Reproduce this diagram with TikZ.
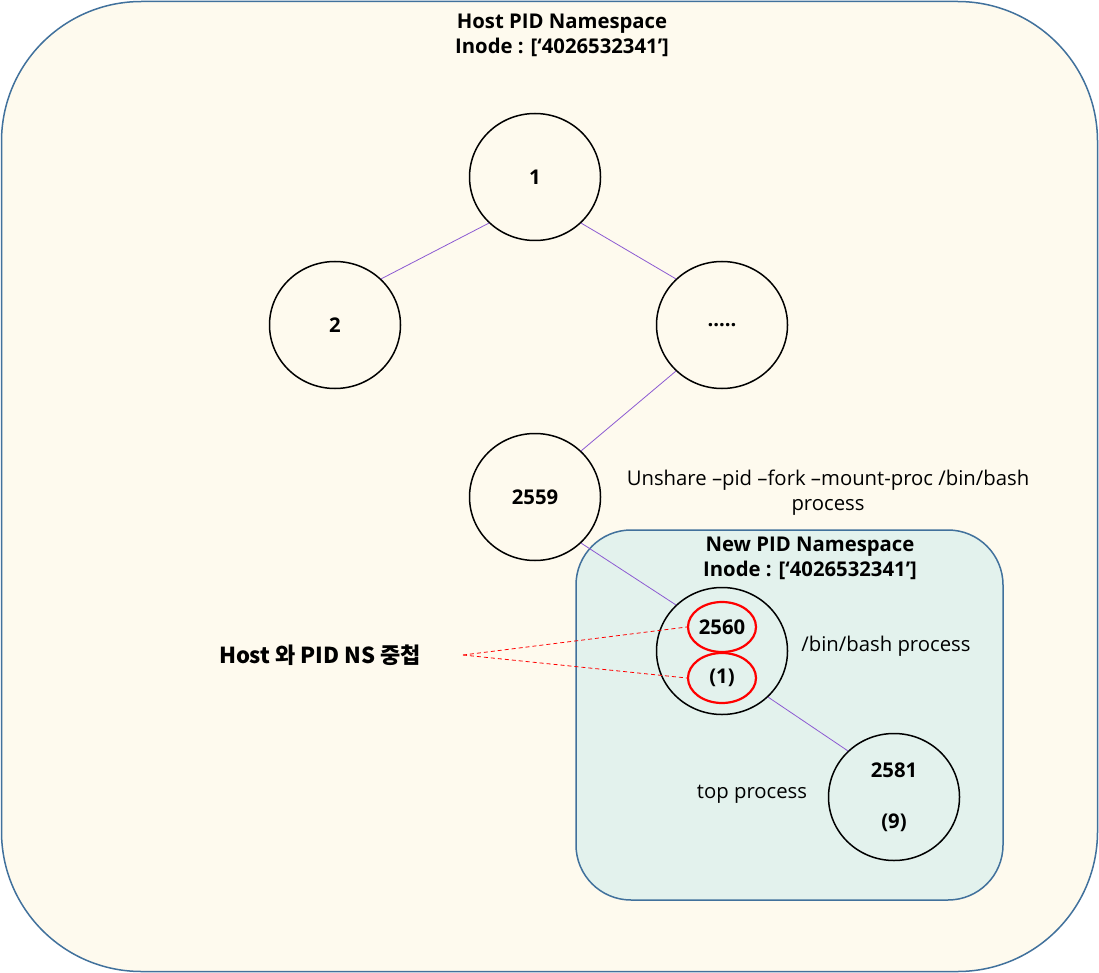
\documentclass[tikz,border=0pt]{standalone}
\usepackage{fontspec}
\setmainfont{Open Sans}
\newfontfamily\kr{Noto Sans CJK KR}
\usetikzlibrary{shapes.geometric}
\definecolor{hostfill}{RGB}{254,250,238}
\definecolor{nsfill}{RGB}{227,242,237}
\definecolor{nsline}{RGB}{65,113,156}
\definecolor{tree}{RGB}{140,90,210}
\newcommand{\txt}{\fontsize{20.3}{25}\selectfont}

\begin{document}
\begin{tikzpicture}[x=1pt,y=-1pt,
        proc/.style={draw, line width=1.5pt, ellipse, minimum width=131pt, minimum height=127pt, font=\txt\bfseries},
        pidmark/.style={draw=red, line width=2.2pt, ellipse, minimum width=68pt, minimum height=50pt, inner sep=0pt, font=\txt\bfseries},
        note/.style={font=\txt, align=center},
        head/.style={font=\txt\bfseries, align=center},
        edge/.style={draw=tree, line width=0.8pt}]
        \useasboundingbox (0,0) rectangle (1099,973);
        % namespaces
        \draw[nsline, fill=hostfill, line width=1.5pt, rounded corners=140pt] (1.5,1.5) rectangle (1097.5,971.5);
        \draw[nsline, fill=nsfill, line width=1.5pt, rounded corners=55pt] (576,530) rectangle (1003,900);
        \node (hostns) [head] at (562,35) {Host PID Namespace\\Inode : [‘4026532341’]};
        \node (newns) [head] at (810,558) {New PID Namespace\\Inode : [‘4026532341’]};
        % process tree
        \node (p1) [proc] at (535,177) {1};
        \node (p2) [proc] at (335,325) {2};
        \node (pdots) [proc] at (722,325) {.....};
        \node (p2559) [proc] at (535,497) {2559};
        \node (p2560) [proc] at (722,651) {};
        \node (p2581) [proc, align=center] at (894,797) {2581\\[26pt](9)};
        \node (pid) [pidmark] at (722,627) {2560};
        \node (nsone) [pidmark] at (722,678) {(1)};
        \draw[edge] (p1.-135) -- (p2.45);
        \draw[edge] (p1.-45) -- (pdots.135);
        \draw[edge] (pdots.-135) -- (p2559.45);
        \draw[edge] (p2559.-45) -- (p2560.135);
        \draw[edge] (p2560.-45) -- (p2581.135);
        % notes
        \node (unshare) [note] at (828,493) {Unshare –pid –fork –mount-proc /bin/bash\\process};
        \node (bash) [note] at (886,646) {/bin/bash process};
        \node (top) [note] at (752,794) {top process};
        \node (overlap) [font=\fontsize{22}{26}\selectfont] at (320,655) {\kr\bfseries Host 와 PID NS 중첩};
        \coordinate (fork) at (463,655);
        \draw[red, line width=0.8pt, dash pattern=on 4pt off 3pt] (fork) -- (pid.west);
        \draw[red, line width=0.8pt, dash pattern=on 4pt off 3pt] (fork) -- (nsone.west);
    \end{tikzpicture}
\end{document}
